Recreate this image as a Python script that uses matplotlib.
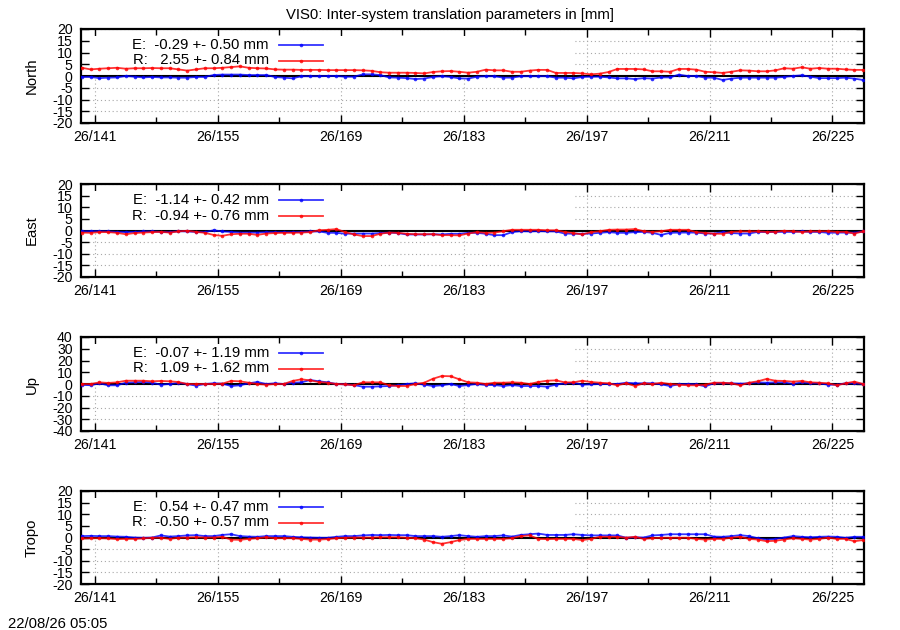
import numpy as np
import matplotlib.pyplot as plt
from matplotlib.patches import Rectangle
from matplotlib.ticker import MultipleLocator

plt.rcParams['font.family'] = ['Liberation Sans', 'DejaVu Sans']
plt.rcParams['font.size'] = 10.7
plt.rcParams['axes.unicode_minus'] = False

# one solution per day, 2026 doy 139..228 (plotted at noon)
doy = np.arange(139.5, 229.5, 1.0)

north_e = [-0.4, -0.4, -0.9, -0.7, -0.6, 0.0, -0.3, -0.6, -0.4, -0.6,
           -0.6, -0.7, -0.7, -0.4, -0.4, 0.4, 0.6, 0.6, 0.6, 0.4,
           0.4, 0.4, -0.4, -0.7, -1.0, -0.1, -0.1, -0.1, 0.0, 0.0,
           -0.3, -0.3, 0.7, 0.7, 0.4, -0.6, -0.7, -0.9, -1.3, -1.1,
           -0.4, -0.1,
           -0.4, -1.0, -1.1, -0.3, -0.1, -0.1, -0.7, -0.7, -0.1, -0.1,
           -0.1, -0.1, -0.7, -0.7, -1.0, -0.4, -0.3, -0.3, -0.6, -1.0,
           -1.0, -1.3, -0.9, -1.1, -0.6, -0.6, 0.6, 0.0, 0.0, -0.7,
           -0.7, -1.7, -1.1, -0.7, -0.7, -0.7, -0.7, -0.7, -0.4, 0.0,
           0.3, -0.3, -0.9, -0.9, -0.9, -0.7, -1.1, -1.7]
north_r = [3.5, 2.8, 3.1, 3.3, 3.5, 3.1, 3.3, 3.3, 3.4, 3.3,
           3.3, 2.8, 2.3, 2.8, 3.3, 3.3, 3.5, 3.8, 4.1, 3.5,
           3.3, 3.2, 2.8, 2.7, 2.7, 2.6, 2.6, 2.6, 2.5, 2.5,
           2.5, 2.5, 2.4, 2.2, 1.6, 1.4, 1.4, 1.4, 1.3, 1.1,
           1.7, 2.0,
           2.1, 1.8, 1.4, 1.8, 2.7, 2.4, 2.4, 1.8, 1.8, 2.3,
           2.6, 2.6, 1.3, 1.3, 1.3, 1.1, 0.7, 1.0, 1.7, 3.0,
           3.0, 3.0, 2.8, 2.0, 2.0, 1.8, 3.0, 3.0, 2.7, 1.8,
           1.6, 1.3, 1.8, 2.4, 2.3, 2.0, 2.0, 2.4, 3.3, 3.1,
           3.7, 3.1, 3.4, 3.1, 3.1, 2.8, 2.6, 2.6]

east_e = [-0.4, -0.3, -0.3, -0.4, -0.6, -0.7, -0.6, -0.4, -0.4, -0.6,
          -0.7, -0.3, -0.4, -0.6, -0.7, 0.1, -0.4, -0.6, -0.9, -0.9,
          -0.9, -0.7, -0.7, -0.7, -0.7, -0.6, -0.4, -0.4, -1.0, -1.0,
          -1.4, -1.3, -1.3, -1.3, -1.1, -0.9, -1.1, -1.7, -1.7, -1.7,
          -1.6, -1.7,
          -1.4, -1.4, -1.0, -1.0, -1.4, -2.0, -2.0, -0.7, -0.3, -0.4,
          -0.3, -0.4, -0.4, -1.3, -1.4, -1.4, -1.3, -1.0, -0.7, -1.0,
          -1.0, -0.7, -0.6, -1.0, -1.9, -1.0, -0.9, -0.9, -0.9, -1.3,
          -1.3, -0.7, -1.1, -1.3, -1.3, -0.6, -0.7, -0.6, -0.6, -0.6,
          -0.4, -0.6, -0.6, -1.0, -0.9, -0.9, -0.9, -0.4]
east_r = [-0.9, -1.0, -0.7, -0.7, -1.0, -1.6, -1.1, -0.9, -0.7, -0.6,
          -0.9, -0.4, -0.1, -0.6, -1.0, -1.9, -2.3, -1.6, -1.4, -1.4,
          -1.9, -1.3, -1.1, -1.0, -1.0, -0.9, -0.7, 0.1, 0.3, 0.6,
          -0.7, -1.7, -2.4, -2.4, -1.4, -0.9, -1.0, -1.4, -1.6, -1.6,
          -1.6, -2.0,
          -2.0, -2.1, -1.3, -0.7, -1.0, -0.9, -0.3, 0.3, 0.3, 0.3,
          0.3, 0.1, 0.1, -0.6, -1.1, -1.7, -0.7, -0.3, 0.3, 0.4,
          0.4, 0.6, -0.3, -0.6, -0.3, 0.3, 0.3, 0.3, -0.7, -1.0,
          -1.4, -1.4, -0.6, -0.4, -0.4, -0.4, -0.6, -0.6, -0.1, -0.4,
          -0.6, -0.4, -0.4, -0.3, -0.6, -0.6, -1.3, -0.4]

up_e = [-0.6, -1.1, 0.6, -1.1, -1.1, 1.1, 1.4, 1.7, 1.1, -0.6,
        0.0, 0.9, 0.0, -1.4, 0.0, 0.6, 0.3, -1.7, -1.1, 0.6,
        1.7, 0.0, 0.6, 0.0, 1.1, 1.4, 3.4, 2.3, 1.4, 0.0,
        -0.3, -0.9, -2.3, -2.3, -2.0, -1.7, -1.1, 0.0, 0.6, -0.6,
        -1.7, -1.1,
        0.0, -1.7, -0.9, 0.0, -0.9, -0.9, -1.7, -0.9, -1.7, -1.7,
        -1.7, -2.3, -0.6, 0.6, 1.1, -0.6, -0.3, 0.0, 0.0, 0.0,
        1.1, 0.6, 0.6, 0.6, -0.3, -1.7, -0.3, 0.0, -0.3, -2.0,
        0.6, 0.6, 0.6, 0.3, 0.6, 1.4, 1.1, 1.4, 1.4, 0.0,
        1.4, 0.6, 0.6, -0.6, -0.6, 0.6, 0.6, 0.0]
up_r = [0.0, 0.0, 1.4, 0.9, 1.4, 2.8, 2.8, 2.8, 2.3, 2.6,
        2.3, 1.7, 0.0, 0.0, 0.0, 0.0, 0.3, 2.6, 2.3, 1.1,
        0.0, -0.6, 0.0, 0.0, 2.6, 4.0, 3.1, 1.7, 1.1, 0.0,
        -0.3, -1.1, 1.4, 1.4, 1.4, -1.1, -1.7, -1.7, 0.0, 1.1,
        4.5, 6.8,
        6.6, 4.0, 1.4, 1.1, 0.0, 1.1, 1.1, 1.4, 1.1, 0.0,
        1.7, 2.8, 3.1, 1.4, 1.4, 2.8, 1.7, 1.1, 0.6, -1.1,
        0.6, -1.7, 0.6, 0.0, 1.1, 0.0, -0.6, -1.1, -1.1, -0.6,
        1.1, 1.1, 0.6, -1.1, 1.1, 2.3, 4.3, 2.8, 2.6, 2.0,
        2.6, 1.4, 1.1, 0.6, -1.1, 0.6, 2.0, 0.0]

tropo_e = [0.6, 0.7, 0.6, 0.6, 0.4, 0.3, 0.0, -0.1, 0.0, 0.9,
           0.4, 0.6, 0.9, 1.0, 0.6, 0.6, 1.1, 1.4, 0.6, 0.4,
           0.3, 0.6, 0.6, 0.6, 0.3, 0.1, 0.0, -0.1, -0.1, 0.3,
           0.6, 0.6, 0.9, 1.1, 1.0, 1.1, 1.0, 1.0, 0.6, 0.6,
           0.6, 0.3,
           0.6, 1.0, 0.6, 0.3, 0.6, 0.6, 0.9, 0.4, 1.1, 1.4,
           1.7, 1.1, 1.1, 1.1, 1.4, 1.1, 0.9, 0.9, 0.9, 0.9,
           -0.1, 0.1, 0.0, 0.9, 1.1, 1.4, 1.4, 1.4, 1.4, 1.4,
           0.4, 0.3, 0.6, 1.0, 0.6, -0.3, -0.9, -0.6, 0.0, 0.6,
           0.3, 0.1, 0.3, 0.4, 0.3, -0.1, 0.3, 0.3]
tropo_r = [-0.4, -0.3, -0.3, -0.4, -0.7, -0.6, -0.6, -0.4, -0.1, -0.1,
           -0.6, -0.1, 0.0, 0.1, 0.0, 0.0, 0.3, -0.9, -1.0, -0.6,
           -0.3, 0.1, -0.3, -0.3, -0.3, -0.6, -0.9, -0.9, -0.7, -0.3,
           -0.1, 0.0, 0.0, 0.0, 0.1, 0.1, 0.1, -0.1, -0.3, -0.9,
           -2.0, -2.7,
           -2.0, -1.1, -0.6, -0.6, -0.6, -0.6, -0.6, -0.3, 0.6, 0.9,
           -0.6, -0.7, -0.6, -0.6, -0.6, -1.1, -0.6, 0.3, 0.3, 0.3,
           -0.1, 0.3, -0.6, -0.3, -0.1, -0.1, -0.1, -0.1, -0.6, -0.9,
           -0.6, -0.6, -0.1, 0.3, -0.6, -0.9, -1.6, -1.4, -0.9, -0.3,
           -0.6, -0.9, -0.6, -0.1, -0.6, -0.6, -1.6, -1.1]

components = ['North', 'East', 'Up', 'Tropo']
e_series = [north_e, east_e, up_e, tropo_e]
r_series = [north_r, east_r, up_r, tropo_r]
e_mean = [-0.29, -1.14, -0.07, 0.54]
e_rms = [0.50, 0.42, 1.19, 0.47]
r_mean = [2.55, -0.94, 1.09, -0.50]
r_rms = [0.84, 0.76, 1.62, 0.57]
yrange = [20, 20, 40, 20]

major_days = [141, 155, 169, 183, 197, 211, 225]
minor_days = [148, 162, 176, 190, 204, 218]
day_labels = ['26/%d' % d for d in major_days]

W, H = 900, 630
panel_top = [29, 184, 337, 491]
panel_bot = [123, 277, 431, 584]

fig = plt.figure(figsize=(9, 6.3), dpi=100)
fig.text(0.5, 1 - 15 / H, 'VIS0: Inter-system translation parameters in [mm]',
         ha='center', va='center')
fig.text(8 / W, 6 / H, '22/08/26 05:05', ha='left', va='center')

for k, name in enumerate(components):
    ax = fig.add_axes([81 / W, 1 - panel_bot[k] / H, 783 / W,
                       (panel_bot[k] - panel_top[k]) / H])
    lim = yrange[k]
    ax.set_xlim(139.4, 228.6)
    ax.set_ylim(-lim, lim)
    ax.yaxis.set_major_locator(MultipleLocator(lim / 4))
    ax.set_xticks(major_days)
    ax.set_xticklabels(day_labels)
    ax.set_xticks(minor_days, minor=True)
    ax.tick_params(which='both', direction='in', top=True, right=True, width=1,
                   labelsize=10.2)
    ax.tick_params(which='major', length=6)
    ax.tick_params(which='minor', length=4)
    ax.tick_params(axis='x', pad=5)
    ax.tick_params(axis='y', pad=6)
    for s in ax.spines.values():
        s.set_linewidth(1.6)
    ax.grid(True, which='major', color='#a8a8a8', linestyle=(0, (1, 2.5)), linewidth=0.8)
    ax.set_axisbelow(True)

    # opaque key box hides grid behind it
    ax.add_patch(Rectangle((0.012, 0.5), 0.616, 0.43, transform=ax.transAxes,
                           facecolor='white', edgecolor='none', zorder=1))
    ax.axhline(0, color='black', lw=1.5, zorder=2)

    ax.plot(doy, e_series[k], color='#0000ff', lw=1.3, alpha=0.8,
            marker='o', ms=2.6, mew=0, zorder=3)
    ax.plot(doy, r_series[k], color='#ff0000', lw=1.3, alpha=0.8,
            marker='o', ms=2.6, mew=0, zorder=4)

    ax.set_ylabel(name)
    ax.yaxis.set_label_coords(-0.054, 0.5)

    # key (text left of sample, like gnuplot)
    h = panel_bot[k] - panel_top[k]
    for j, (lab, m, s, c) in enumerate([('E', e_mean[k], e_rms[k], '#0000ff'),
                                        ('R', r_mean[k], r_rms[k], '#ff0000')]):
        y = 1 - (16 + 15.5 * j) / h
        ax.text(0.240, y, '%s: %6.2f +- %4.2f mm' % (lab, m, s),
                transform=ax.transAxes, ha='right', va='center', zorder=5)
        ax.plot([0.253, 0.281, 0.309], [y, y, y], transform=ax.transAxes,
                color=c, lw=1.3, alpha=0.8, marker='o', ms=2.6, mew=0,
                markevery=[1], zorder=5)

fig.savefig('out.png', dpi=100)
